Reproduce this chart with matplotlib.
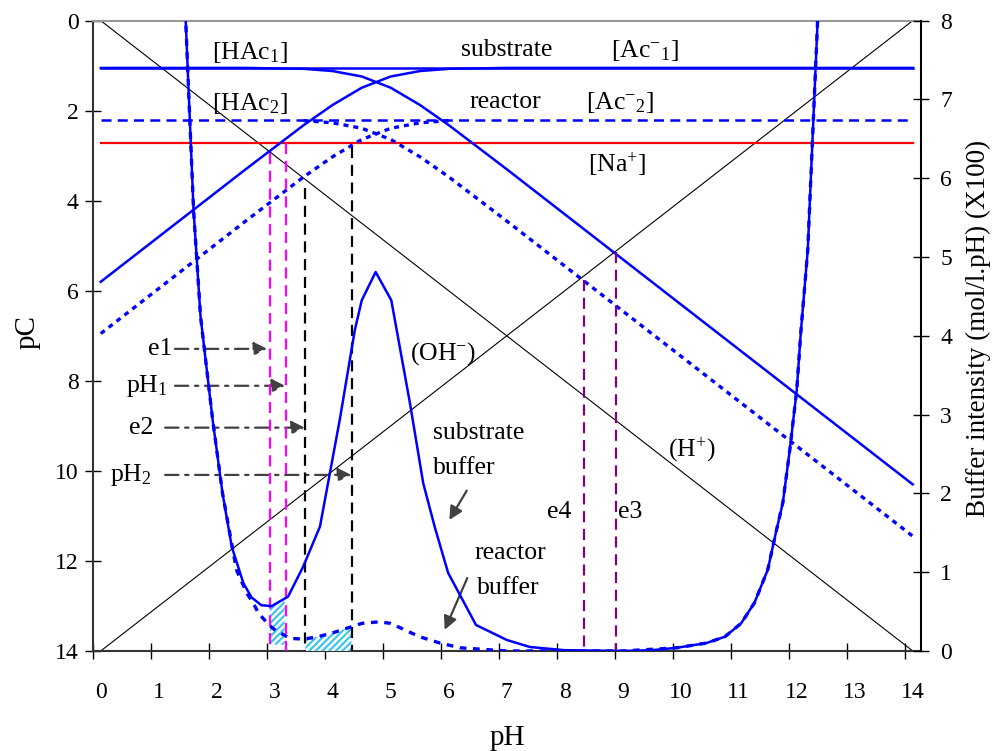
import matplotlib
matplotlib.use('Agg')
import matplotlib.pyplot as plt
import numpy as np

plt.rcParams['font.family'] = 'Liberation Serif'
plt.rcParams['mathtext.fontset'] = 'custom'
plt.rcParams['mathtext.rm'] = 'Liberation Serif'
plt.rcParams['mathtext.it'] = 'Liberation Serif:italic'
plt.rcParams['hatch.linewidth'] = 1.5

# ---- data ----
# water lines
ph_ion = [0, 1, 2, 3, 4, 5, 6, 7, 8, 9, 10, 11, 12, 13, 14]
pc_h = [0, 1, 2, 3, 4, 5, 6, 7, 8, 9, 10, 11, 12, 13, 14]
pc_oh = [14, 13, 12, 11, 10, 9, 8, 7, 6, 5, 4, 3, 2, 1, 0]

# acetate species
ph = [0, 0.5, 1, 1.5, 2, 2.5, 3, 3.5, 4, 4.5, 5, 5.5, 6, 6.5, 7, 7.5,
      8, 8.5, 9, 9.5, 10, 10.5, 11, 11.5, 12, 12.5, 13, 13.5, 14]
hac1 = [1.05, 1.05, 1.05, 1.05, 1.05, 1.05, 1.06, 1.07, 1.12, 1.24, 1.49, 1.87,
        2.32, 2.81, 3.30, 3.80, 4.30, 4.80, 5.30, 5.80, 6.30, 6.80, 7.30, 7.80,
        8.30, 8.80, 9.30, 9.80, 10.30]
ac1 = [5.80, 5.30, 4.80, 4.30, 3.80, 3.30, 2.81, 2.32, 1.87, 1.49, 1.24, 1.12,
       1.07, 1.06, 1.05, 1.05, 1.05, 1.05, 1.05, 1.05, 1.05, 1.05, 1.05, 1.05,
       1.05, 1.05, 1.05, 1.05, 1.05]
hac2 = [2.20, 2.20, 2.20, 2.20, 2.20, 2.20, 2.21, 2.22, 2.27, 2.39, 2.64, 3.02,
        3.47, 3.96, 4.45, 4.95, 5.45, 5.95, 6.45, 6.95, 7.45, 7.95, 8.45, 8.95,
        9.45, 9.95, 10.45, 10.95, 11.45]
ac2 = [6.95, 6.45, 5.95, 5.45, 4.95, 4.45, 3.96, 3.47, 3.02, 2.64, 2.39, 2.27,
       2.22, 2.21, 2.20, 2.20, 2.20, 2.20, 2.20, 2.20, 2.20, 2.20, 2.20, 2.20,
       2.20, 2.20, 2.20, 2.20, 2.20]
pc_total1 = 1.05
pc_total2 = 2.20
pc_na = 2.71

# buffer intensity (right axis)
ph_bs = [1.42, 1.6, 1.72, 1.93, 2.1, 2.26, 2.46, 2.6, 2.77, 2.95, 3.23, 3.49,
         3.78, 4.12, 4.38, 4.5, 4.74, 5.01, 5.33, 5.56, 5.76, 5.99, 6.47, 7.0,
         7.4, 8.0, 9.0, 9.5, 9.93, 10.44, 10.76, 11.04, 11.27, 11.5, 11.64,
         11.76, 11.88, 12.0, 12.07, 12.19, 12.36, 12.42]
buf_s = [8.8, 5.6, 4.25, 2.93, 2.0, 1.32, 0.86, 0.68, 0.58, 0.57, 0.69, 1.07,
         1.58, 2.93, 4.07, 4.45, 4.81, 4.45, 3.15, 2.13, 1.57, 0.99, 0.33, 0.14,
         0.05, 0.01, 0.0, 0.01, 0.04, 0.10, 0.18, 0.35, 0.61, 1.03, 1.50,
         1.88, 2.55, 3.31, 4.04, 5.09, 8.0, 8.8]
ph_br = [1.42, 1.6, 1.72, 1.93, 2.1, 2.34, 2.52, 2.62, 2.72, 2.9, 3.0, 3.26,
         3.5, 3.74, 4.0, 4.25, 4.5, 4.8, 5.0, 5.5, 5.85, 6.2, 6.6, 7.0, 9.0,
         9.93, 10.44, 10.76, 11.04, 11.27, 11.5, 11.64, 11.76, 11.88, 12.0,
         12.07, 12.19, 12.36, 12.42]
buf_r = [8.8, 5.6, 4.25, 2.93, 2.0, 1.03, 0.73, 0.62, 0.48, 0.33, 0.27, 0.16,
         0.15, 0.18, 0.23, 0.29, 0.35, 0.37, 0.35, 0.18, 0.10, 0.04, 0.02, 0.0,
         0.0, 0.04, 0.10, 0.18, 0.35, 0.61, 1.03, 1.50, 1.88, 2.55, 3.31,
         4.04, 5.09, 8.0, 8.8]

# shaded areas (right axis units)
ph_area1 = [2.92, 3.05, 3.17]
top_area1 = [0.56, 0.60, 0.64]
bot_area1 = [0.08, 0.08, 0.08]
ph_area2 = [3.53, 3.74, 4.0, 4.25, 4.32]
top_area2 = [0.15, 0.18, 0.23, 0.29, 0.31]

# vertical marker lines: (pH, top pC, colour)
vlines = [(2.92, 2.94, '#ff00ff'), (3.19, 2.71, '#ff00ff'),
          (3.53, 3.72, 'black'), (4.34, 2.80, 'black'),
          (8.33, 5.76, '#800080'), (8.88, 5.14, '#800080')]

blue = '#0000ff'
arrow_c = '#404040'
fs = 17      # tick labels
fa = 18.5    # annotations

fig = plt.figure(figsize=(9.94, 7.51), dpi=100)
ax = fig.add_axes([0.0933, 0.1332, 0.8330, 0.8393])
ax2 = ax.twinx()

# pC side
ax.plot(ph_ion, pc_h, color='black', lw=0.8)
ax.plot(ph_ion, pc_oh, color='black', lw=0.8)
ax.plot([0, 14], [pc_total1, pc_total1], color=blue, lw=1.8)
ax.plot([0, 14], [pc_total2, pc_total2], color=blue, lw=1.8, ls=(0, (4, 2.5)))
ax.plot([0, 14], [pc_na, pc_na], color='red', lw=1.6)
ax.plot(ph, hac1, color=blue, lw=1.8)
ax.plot(ph, ac1, color=blue, lw=1.8)
ax.plot(ph[7:], hac2[7:], color=blue, lw=2.4, ls=(0, (1.5, 1.5)))
ax.plot(ph[:13], ac2[:13], color=blue, lw=2.4, ls=(0, (1.5, 1.5)))

ax.set_xlim(-0.138, 14.138)
ax.set_ylim(14, 0)

# buffer side
ax2.fill_between(ph_area1, bot_area1, top_area1, facecolor='white',
                 edgecolor='#33c4f0', hatch='/////', linewidth=0, zorder=1)
ax2.fill_between(ph_area2, 0, top_area2, facecolor='white',
                 edgecolor='#33c4f0', hatch='/////', linewidth=0, zorder=1)
for x, top, c in vlines:
    ax2.plot([x, x], [top, 14], color=c, lw=1.6, ls=(0, (5, 3)),
             transform=ax.transData, zorder=2)
ax2.plot(ph_bs, buf_s, color=blue, lw=1.8, zorder=3)
ax2.plot(ph_br, buf_r, color=blue, lw=2.4, ls=(0, (2, 2)), zorder=3)
ax2.set_ylim(0, 8)

# ticks and spines
ax.set_xticks(range(15))
ax.set_xticks(np.arange(15) - 0.138, minor=True)
ax.tick_params(axis='x', which='major', length=0, pad=22, labelsize=fs)
ax.tick_params(axis='x', which='minor', direction='inout', length=12, width=1)
ax.set_yticks(range(0, 15, 2))
ax.tick_params(axis='y', direction='inout', length=12, width=1, pad=4,
               labelsize=fs)
ax2.set_yticks(range(0, 9))
ax2.tick_params(axis='y', direction='inout', length=12, width=1, pad=8,
                labelsize=fs)
ax.spines['top'].set_color('#999999')
ax.spines['left'].set_color('#333333')
ax.spines['bottom'].set_color('#333333')
for s in ['top', 'left', 'bottom', 'right']:
    ax.spines[s].set_linewidth(1.5)
    ax2.spines[s].set_visible(False)
ax2.spines['right'].set_visible(True)
ax2.spines['right'].set_linewidth(1.5)
ax.spines['right'].set_visible(False)

# labels
fig.text(28 / 994, 1 - 332 / 751, 'pC', rotation=90, ha='center',
         va='center', fontsize=21)
fig.text(507 / 994, 1 - 738 / 751, 'pH', ha='center', va='center', fontsize=21)
fig.text(978 / 994, 1 - 328 / 751, 'Buffer intensity (mol/l.pH) (X100)',
         rotation=90, ha='center', va='center', fontsize=19.5)

tk = dict(fontsize=fa, ha='center', va='center')
ax.text(2.57, 0.70, r'[HAc$_\mathrm{1}$]', **tk)
ax.text(7.0, 0.65, 'substrate', **tk)
ax.text(9.38, 0.66, r'[Ac$^{\mathrm{-}}$$_\mathrm{1}$]', **tk)
ax.text(2.57, 1.85, r'[HAc$_\mathrm{2}$]', **tk)
ax.text(6.97, 1.81, 'reactor', **tk)
ax.text(8.96, 1.81, r'[Ac$^{\mathrm{-}}$$_\mathrm{2}$]', **tk)
ax.text(8.9, 3.2, r'[Na$^{+}$]', **tk)
ax.text(5.9, 7.4, r'(OH$^{-}$)', **tk)
ax.text(10.19, 9.52, r'(H$^{+}$)', **tk)
ax.text(7.9, 10.91, 'e4', **tk)
ax.text(9.12, 10.91, 'e3', **tk)
ax.text(5.73, 9.16, 'substrate', fontsize=fa, ha='left', va='center')
ax.text(5.73, 9.94, 'buffer', fontsize=fa, ha='left', va='center')
ax.text(6.45, 11.82, 'reactor', fontsize=fa, ha='left', va='center')
ax.text(6.48, 12.6, 'buffer', fontsize=fa, ha='left', va='center')

solid_arrow = dict(arrowstyle='-|>', color=arrow_c, lw=1.6, mutation_scale=20,
                   shrinkA=0, shrinkB=0)
ax.annotate('', xy=(6.01, 11.09), xytext=(6.31, 10.44), arrowprops=solid_arrow)
ax.annotate('', xy=(5.93, 13.53), xytext=(6.32, 12.38), arrowprops=solid_arrow)

# dash-dot pointers
pointers = [(r'e1', 1.23, 1.28, 2.87, 7.29),
            (r'pH$_\mathrm{1}$', 1.16, 1.28, 3.18, 8.11),
            (r'e2', 0.90, 1.11, 3.52, 9.04),
            (r'pH$_\mathrm{2}$', 0.88, 1.11, 4.32, 10.09)]
for lab, xt, x0, x1, y in pointers:
    ax.text(xt, y, lab, fontsize=fa, ha='right', va='center')
    ax.annotate('', xy=(x1, y), xytext=(x0, y),
                arrowprops=dict(arrowstyle='-|>', color=arrow_c, lw=1.6,
                                ls=(0, (6, 3, 1.5, 3)), mutation_scale=20,
                                shrinkA=0, shrinkB=0))

fig.savefig('out.png', dpi=100)
